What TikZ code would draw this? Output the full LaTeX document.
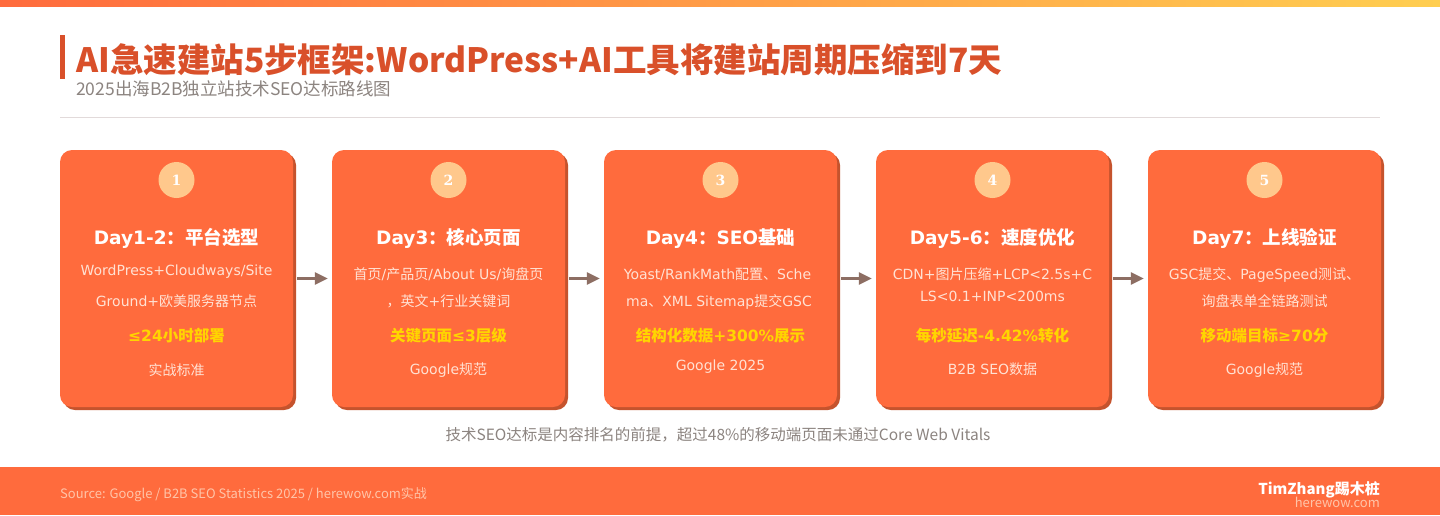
\documentclass[tikz,border=0pt]{standalone}
\usepackage{fontspec}
\usepackage{tikz}
\usetikzlibrary{positioning,arrows.meta,shadows}
\setmainfont{DejaVu Sans}
\newfontfamily\cjk{Noto Sans CJK SC}
\newfontfamily\numfont{DejaVu Serif}

% CJK characters are set in Noto Sans CJK
\XeTeXinterchartokenstate=1
\newXeTeXintercharclass\cjkcls
\count255="3000
\loop\XeTeXcharclass\count255=\cjkcls
\ifnum\count255<"9FFF \advance\count255 by 1 \repeat
\count255="FF00
\loop\XeTeXcharclass\count255=\cjkcls
\ifnum\count255<"FFEF \advance\count255 by 1 \repeat
\XeTeXinterchartoks 0 \cjkcls = {\begingroup\cjk}
\XeTeXinterchartoks 4095 \cjkcls = {\begingroup\cjk}
\XeTeXinterchartoks \cjkcls 0 = {\endgroup}
\XeTeXinterchartoks \cjkcls 4095 = {\endgroup}

\definecolor{cardfill}{HTML}{FF6B3D}
\definecolor{cardshade}{HTML}{C5532D}
\definecolor{circfill}{HTML}{FFC88C}
\definecolor{bodytxt}{HTML}{FFE2D4}
\definecolor{hltxt}{HTML}{FFD500}
\definecolor{arrowclr}{HTML}{8D6E63}
\definecolor{titleclr}{HTML}{D9502A}
\definecolor{subclr}{HTML}{8C8480}
\definecolor{rulec}{HTML}{E2DADA}
\definecolor{srctxt}{HTML}{FFC4A8}
\definecolor{topA}{HTML}{FF6B3D}
\definecolor{topB}{HTML}{FFA24A}
\definecolor{topC}{HTML}{FFCE50}

\begin{document}
\begin{tikzpicture}[
  x=1pt, y=1pt,
  card/.style={fill=cardfill, rounded corners=12pt, minimum width=233pt, minimum height=257pt, inner sep=0pt,
    drop shadow={opacity=1, fill=cardshade, shadow xshift=3pt, shadow yshift=-3pt}},
  circ/.style={circle, fill=circfill, minimum size=36pt, inner sep=0pt, text=white, font=\numfont\bfseries\fontsize{14}{14}\selectfont},
  hd/.style={anchor=base, text=white, font=\bfseries\fontsize{18.5}{22}\selectfont},
  bodyt/.style={anchor=base, text=bodytxt, font=\fontsize{14}{16}\selectfont},
  hl/.style={anchor=base, text=hltxt, font=\bfseries\fontsize{15.5}{18}\selectfont},
  arr/.style={-{Triangle[length=13pt, width=12pt]}, arrowclr, line width=2.5pt, shorten <=4pt, shorten >=4pt}
]
\fill[white] (0,0) rectangle (1440,-515);
\useasboundingbox (0,0) rectangle (1440,-515);

% header
\shade[left color=topA, middle color=topB, right color=topC] (0,0) rectangle (1440,-6);
\fill[titleclr] (60,-34.5) rectangle (64.5,-78.5);
\node[anchor=base west, inner sep=0pt, text=titleclr, font=\cjk\bfseries\fontsize{33.5}{40}\selectfont] (title) at (76,-72.5) {AI急速建站5步框架:WordPress+AI工具将建站周期压缩到7天};
\node[anchor=base west, inner sep=0pt, text=subclr, font=\cjk\fontsize{17.5}{20}\selectfont] (subtitle) at (76,-95) {2025出海B2B独立站技术SEO达标路线图};
\draw[rulec, line width=1pt] (60,-117.5) -- (1380,-117.5);

% cards
\foreach \i in {1,...,5} {
  \node[card] (card\i) at ({176.5+272*(\i-1)},-278.5) {};
  \node[circ] (num\i) at ({176.5+272*(\i-1)},-180) {\i};
}

\node[hd] (hd1) at (176.5,-244) {Day1-2：平台选型};
\node[bodyt] (ta1) at (176.5,-275) {WordPress+Cloudways/Site};
\node[bodyt] (tb1) at (176.5,-306.5) {Ground+欧美服务器节点};
\node[hl] (hl1) at (176.5,-341.5) {≤24小时部署};
\node[bodyt] (src1) at (176.5,-375) {实战标准};

\node[hd] (hd2) at (448.5,-244) {Day3：核心页面};
\node[bodyt] (ta2) at (448.5,-279) {首页/产品页/About Us/询盘页};
\node[bodyt] (tb2) at (448.5,-306.5) {，英文+行业关键词};
\node[hl] (hl2) at (448.5,-341.5) {关键页面≤3层级};
\node[bodyt] (src2) at (448.5,-374) {Google规范};

\node[hd] (hd3) at (720.5,-244) {Day4：SEO基础};
\node[bodyt] (ta3) at (717.5,-279) {Yoast/RankMath配置、Sche};
\node[bodyt] (tb3) at (719,-306.5) {ma、XML Sitemap提交GSC};
\node[hl] (hl3) at (720.5,-341.5) {结构化数据+300\%展示};
\node[bodyt] (src3) at (720.5,-370) {Google 2025};

\node[hd] (hd4) at (992.5,-244) {Day5-6：速度优化};
\node[bodyt] (ta4) at (992.5,-279) {CDN+图片压缩+LCP<2.5s+C};
\node[bodyt] (tb4) at (992.5,-301.5) {LS<0.1+INP<200ms};
\node[hl] (hl4) at (992.5,-341.5) {每秒延迟-4.42\%转化};
\node[bodyt] (src4) at (992.5,-374) {B2B SEO数据};

\node[hd] (hd5) at (1264.5,-244) {Day7：上线验证};
\node[bodyt] (ta5) at (1264.5,-279) {GSC提交、PageSpeed测试、};
\node[bodyt] (tb5) at (1264.5,-306.5) {询盘表单全链路测试};
\node[hl] (hl5) at (1264.5,-341.5) {移动端目标≥70分};
\node[bodyt] (src5) at (1264.5,-374) {Google规范};

\draw[arr] (card1) -- (card2);
\draw[arr] (card2) -- (card3);
\draw[arr] (card3) -- (card4);
\draw[arr] (card4) -- (card5);

% footnote and footer
\node[anchor=base, text=subclr, font=\cjk\fontsize{15.5}{18}\selectfont] (note) at (718,-440.5) {技术SEO达标是内容排名的前提，超过48\%的移动端页面未通过Core Web Vitals};
\fill[cardfill] (0,-467) rectangle (1440,-515);
\node[anchor=base west, inner sep=0pt, text=srctxt, font=\cjk\fontsize{13}{15}\selectfont] (source) at (60,-498) {Source: Google / B2B SEO Statistics 2025 / herewow.com实战};
\node[anchor=base east, inner sep=0pt, text=white, font=\cjk\bfseries\fontsize{15}{17}\selectfont] (brand) at (1380,-494) {TimZhang踢木桩};
\node[anchor=base east, inner sep=0pt, text=srctxt, font=\cjk\fontsize{13}{15}\selectfont] (site) at (1380,-507.5) {herewow.com};
\end{tikzpicture}
\end{document}
